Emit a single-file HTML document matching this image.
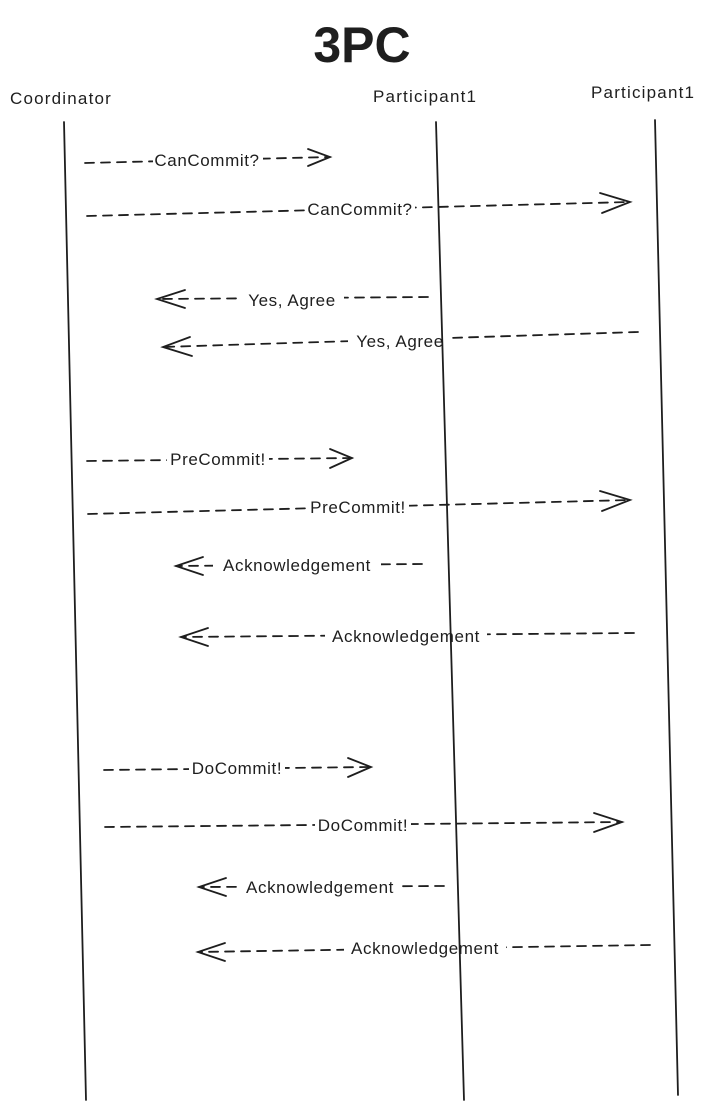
<!DOCTYPE html>
<html><head><meta charset="utf-8"><style>
html,body{margin:0;padding:0;background:#fff;}
svg{display:block;}
text{font-family:"Liberation Sans",sans-serif;fill:#1e1e1e;}
.l{stroke:#1e1e1e;stroke-width:1.8;fill:none;stroke-linecap:round;}
.d{stroke:#1e1e1e;stroke-width:1.8;fill:none;stroke-dasharray:9 7;stroke-linecap:round;}
.t{font-size:17px;text-anchor:middle;letter-spacing:0.6px;}
.h{font-size:17px;letter-spacing:1.2px;}
</style></head><body>
<svg width="720" height="1110" viewBox="0 0 720 1110" xmlns="http://www.w3.org/2000/svg">
<rect width="720" height="1110" fill="#fff"/>
<text x="362" y="62" font-size="50" font-weight="bold" text-anchor="middle">3PC</text>
<text class="h" x="10" y="104">Coordinator</text>
<text class="h" x="373" y="102">Participant1</text>
<text class="h" x="591" y="98">Participant1</text>

<!-- right arrows -->
<g>
<line class="d" x1="85" y1="163" x2="330" y2="157"/><polyline class="l" points="308,149 330,157 308,166"/>
<line class="d" x1="87" y1="216" x2="630" y2="202"/><polyline class="l" points="600,193 630,202 602,213"/>
<line class="d" x1="87" y1="461" x2="352" y2="458"/><polyline class="l" points="330,449 352,458 330,468"/>
<line class="d" x1="88" y1="514" x2="630" y2="500"/><polyline class="l" points="600,491 630,500 602,511"/>
<line class="d" x1="104" y1="770" x2="371" y2="767"/><polyline class="l" points="348,758 371,767 348,777"/>
<line class="d" x1="105" y1="827" x2="622" y2="822"/><polyline class="l" points="594,813 622,822 594,832"/>
</g>
<!-- left arrows -->
<g>
<line class="d" x1="428" y1="297" x2="157" y2="299"/><polyline class="l" points="185,290 157,299 185,308"/>
<line class="d" x1="638" y1="332" x2="163" y2="347"/><polyline class="l" points="190,337 163,347 192,356"/>
<line class="d" x1="422" y1="564" x2="176" y2="566"/><polyline class="l" points="203,557 176,566 203,575"/>
<line class="d" x1="634" y1="633" x2="181" y2="637"/><polyline class="l" points="208,628 181,637 208,646"/>
<line class="d" x1="444" y1="886" x2="199" y2="887"/><polyline class="l" points="226,878 199,887 226,896"/>
<line class="d" x1="650" y1="945" x2="198" y2="952"/><polyline class="l" points="225,943 198,952 225,961"/>
</g>
<!-- labels -->
<g>
<rect x="153" y="151" width="110" height="18" fill="#fff"/><text class="t" x="207" y="166">CanCommit?</text>
<rect x="305" y="200" width="110" height="18" fill="#fff"/><text class="t" x="360" y="215">CanCommit?</text>
<rect x="240" y="291" width="104" height="18" fill="#fff"/><text class="t" x="292" y="306">Yes, Agree</text>
<rect x="348" y="332" width="104" height="18" fill="#fff"/><text class="t" x="400" y="347">Yes, Agree</text>
<rect x="167" y="450" width="102" height="18" fill="#fff"/><text class="t" x="218" y="465">PreCommit!</text>
<rect x="307" y="498" width="102" height="18" fill="#fff"/><text class="t" x="358" y="513">PreCommit!</text>
<rect x="213" y="556" width="168" height="18" fill="#fff"/><text class="t" x="297" y="571">Acknowledgement</text>
<rect x="325" y="627" width="162" height="18" fill="#fff"/><text class="t" x="406" y="642">Acknowledgement</text>
<rect x="189" y="759" width="96" height="18" fill="#fff"/><text class="t" x="237" y="774">DoCommit!</text>
<rect x="315" y="816" width="96" height="18" fill="#fff"/><text class="t" x="363" y="831">DoCommit!</text>
<rect x="238" y="878" width="164" height="18" fill="#fff"/><text class="t" x="320" y="893">Acknowledgement</text>
<rect x="344" y="939" width="162" height="18" fill="#fff"/><text class="t" x="425" y="954">Acknowledgement</text>
</g>
<line class="l" x1="64" y1="122" x2="86" y2="1100"/>
<line class="l" x1="436" y1="122" x2="464" y2="1100"/>
<line class="l" x1="655" y1="120" x2="678" y2="1095"/>
</svg>
</body></html>
